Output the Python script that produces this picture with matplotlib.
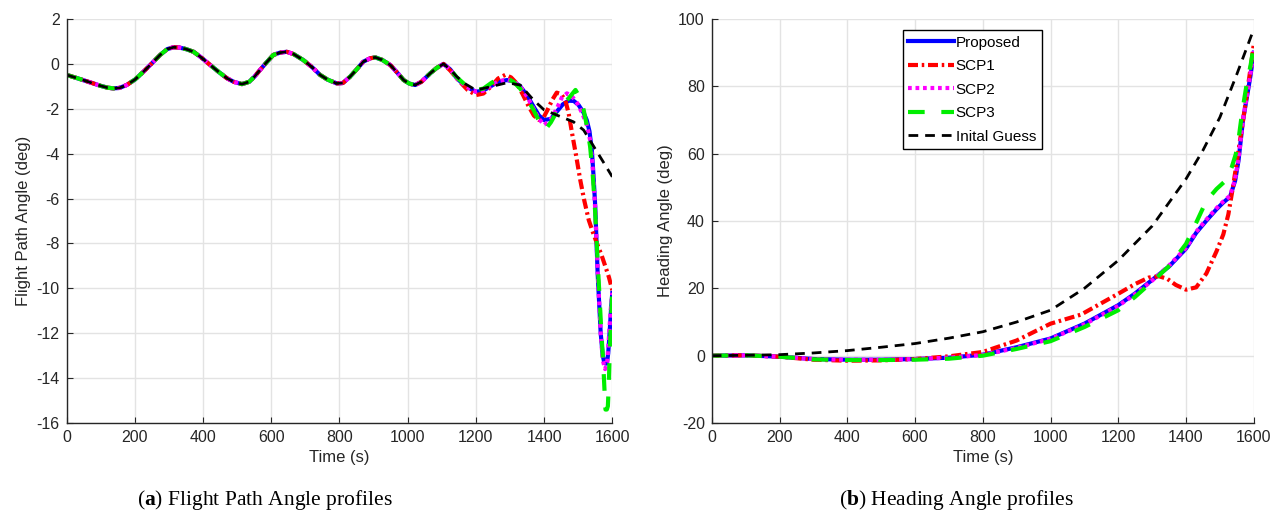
import numpy as np
import matplotlib.pyplot as plt

# =========================
# DATA
# =========================

# flight path angle, common oscillation part (0 - 1105 s)
t_fpa_early = [0, 40, 78, 100, 120, 137, 155, 176, 200, 225,
               250, 274, 295, 313, 330, 350, 372, 395, 421, 445,
               470, 490, 514, 535, 550, 567, 585, 606, 625, 645,
               665, 694, 720, 743, 765, 792, 810, 831, 850, 870,
               890, 905, 925, 949, 970, 988, 1005, 1022, 1040, 1066,
               1085, 1105]
fpa_early = [-0.49, -0.68, -0.87, -0.98, -1.06, -1.09, -1.07, -0.94, -0.70, -0.35,
             0.03, 0.40, 0.66, 0.74, 0.73, 0.66, 0.54, 0.28, -0.05, -0.35,
             -0.64, -0.80, -0.90, -0.80, -0.58, -0.27, 0.05, 0.40, 0.50, 0.54,
             0.44, 0.17, -0.15, -0.49, -0.70, -0.87, -0.85, -0.57, -0.25, 0.10,
             0.25, 0.29, 0.18, -0.05, -0.40, -0.72, -0.88, -0.94, -0.80, -0.42,
             -0.18, 0.0]

# tails
t_fpa_prop = [1125, 1144, 1170, 1200, 1220, 1242, 1265, 1291, 1310, 1330,
              1350, 1369, 1385, 1400, 1420, 1437, 1455, 1472, 1487, 1501,
              1515, 1525, 1533, 1540, 1545, 1550, 1557, 1566, 1572, 1576,
              1580, 1584, 1588, 1592, 1596, 1600]
fpa_prop = [-0.25, -0.64, -1.0, -1.24, -1.20, -1.01, -0.80, -0.72, -0.78, -1.0,
            -1.4, -1.9, -2.3, -2.5, -2.45, -2.13, -1.8, -1.64, -1.65, -1.83,
            -2.15, -2.5, -3.0, -3.84, -5.0, -6.36, -9.33, -12.0, -13.0, -13.27,
            -13.35, -13.35, -12.9, -12.0, -11.0, -10.2]

t_fpa_scp1 = [1125, 1150, 1175, 1200, 1222, 1245, 1265, 1286, 1303, 1320,
              1337, 1355, 1370, 1385, 1398, 1410, 1424, 1437, 1450, 1462,
              1472, 1482, 1494, 1506, 1518, 1531, 1543, 1555, 1568, 1580,
              1590, 1600]
fpa_scp1 = [-0.3, -0.75, -1.15, -1.39, -1.32, -1.0, -0.65, -0.49, -0.6, -0.87,
            -1.35, -1.9, -2.3, -2.5, -2.4, -2.05, -1.6, -1.28, -1.35, -1.61,
            -2.2, -3.09, -4.1, -5.17, -6.1, -6.96, -7.5, -8.0, -8.5, -9.04,
            -9.5, -10.08]

t_fpa_scp2 = [1125, 1144, 1170, 1200, 1220, 1242, 1265, 1291, 1310, 1330,
              1350, 1369, 1385, 1400, 1418, 1437, 1452, 1467, 1482, 1497,
              1512, 1525, 1535, 1542, 1550, 1558, 1566, 1572, 1579, 1585,
              1590, 1595, 1600]
fpa_scp2 = [-0.25, -0.64, -1.0, -1.24, -1.2, -1.0, -0.78, -0.70, -0.78, -1.0,
            -1.45, -2.0, -2.45, -2.72, -2.5, -2.0, -1.5, -1.31, -1.45, -1.75,
            -2.2, -2.7, -3.4, -4.5, -6.5, -9.5, -12.0, -13.2, -13.6, -13.3,
            -12.2, -11.0, -10.2]

t_fpa_scp3 = [1125, 1144, 1170, 1200, 1222, 1245, 1268, 1291, 1310, 1330,
              1350, 1369, 1387, 1403, 1420, 1437, 1455, 1472, 1492, 1505,
              1516, 1526, 1535, 1543, 1550, 1557, 1563, 1568, 1573, 1577,
              1580, 1584, 1587, 1590, 1592, 1596, 1600]
fpa_scp3 = [-0.25, -0.6, -0.95, -1.17, -1.1, -0.85, -0.65, -0.64, -0.8, -1.1,
            -1.55, -2.05, -2.6, -2.94, -2.6, -2.13, -1.8, -1.53, -1.16, -1.5,
            -2.05, -2.8, -3.69, -5.0, -6.66, -8.8, -10.5, -12.0, -13.2, -14.5,
            -15.4, -15.4, -15.25, -14.2, -13.05, -11.5, -10.08]

t_fpa_ig = [1125, 1144, 1170, 1200, 1242, 1291, 1330, 1369, 1400, 1437,
            1486, 1516, 1546, 1576, 1600]
fpa_ig = [-0.25, -0.57, -0.9, -1.17, -1.02, -0.84, -0.94, -1.61, -2.05, -2.28,
          -2.58, -2.95, -3.69, -4.43, -5.03]

# heading angle
t_head = [0, 100, 200, 300, 400, 500, 600, 700, 800, 900,
          1000, 1100, 1200, 1250, 1300, 1350, 1400, 1430, 1460, 1490,
          1510, 1530, 1545, 1555, 1568, 1580, 1590, 1600]
head_prop = [0, 0.1, -0.3, -1.0, -1.2, -1.2, -1.0, -0.6, 0.3, 2.5,
             5.1, 9.5, 15.0, 18.5, 22.5, 26.5, 31.8, 36.5, 40.1, 43.5,
             45.5, 47.2, 52, 58, 69.8, 77, 83, 90]
head_scp2 = [0, 0.1, -0.3, -1.0, -1.2, -1.2, -1.0, -0.6, 0.2, 2.3,
             5.0, 9.3, 14.8, 18.3, 22.3, 26.8, 32.0, 36.8, 40.4, 43.8,
             45.8, 47.5, 52.5, 58.5, 70, 77.5, 83.5, 90.5]

t_head_scp1 = [0, 100, 200, 300, 400, 500, 600, 700, 800, 900,
               1000, 1090, 1200, 1250, 1290, 1320, 1345, 1370, 1400, 1430,
               1460, 1490, 1510, 1525, 1540, 1555, 1568, 1580, 1590, 1600]
head_scp1 = [0, 0.1, -0.3, -1.2, -1.5, -1.4, -1.0, -0.2, 1.1, 4.5,
             9.5, 12.2, 18.4, 21.3, 23.2, 23.6, 22.8, 21.0, 19.6, 20.3,
             24.4, 31.0, 36.0, 42, 51, 61, 69.7, 78, 85, 92.5]

t_head_scp3 = [0, 100, 200, 300, 400, 500, 600, 700, 800, 900,
               1000, 1100, 1200, 1250, 1300, 1352, 1400, 1430, 1460, 1490,
               1517, 1535, 1547, 1556, 1566, 1578, 1591, 1600]
head_scp3 = [0, 0.1, -0.3, -1.1, -1.3, -1.3, -1.2, -0.9, 0.0, 2.0,
             4.3, 8.5, 13.5, 17.5, 22.0, 26.8, 33.2, 39.5, 46.0, 49.5,
             52.0, 56, 59.9, 65, 72.6, 80, 86.5, 92]

t_head_ig = [0, 100, 200, 300, 400, 500, 600, 700, 800, 900,
             1000, 1100, 1200, 1300, 1400, 1450, 1500, 1550, 1600]
head_ig = [0, 0.1, 0.3, 0.8, 1.5, 2.5, 3.6, 5.2, 7.1, 10.0,
           13.5, 20.0, 28.3, 38.5, 52.5, 61, 70.8, 83.6, 97.0]

labels = ["Proposed", "SCP1", "SCP2", "SCP3", "Inital Guess"]

# =========================
# PLOT
# =========================

plt.rcParams['font.family'] = ['Liberation Sans', 'DejaVu Sans']
plt.rcParams['axes.unicode_minus'] = False
plt.rcParams['mathtext.fontset'] = 'custom'
plt.rcParams['mathtext.rm'] = 'Liberation Serif'
plt.rcParams['mathtext.bf'] = 'Liberation Serif:bold'

styles = [
    dict(color="#0000ff", lw=3, ls="-"),
    dict(color="#ff0000", lw=3, ls=(0, (2.4, 0.9, 0.6, 0.9))),
    dict(color="#ff00ff", lw=3, ls=(0, (0.9, 0.9))),
    dict(color="#00ee00", lw=3, ls=(0, (4, 4))),
    dict(color="black", lw=2, ls=(0, (3.5, 2.5))),
]

fig = plt.figure(figsize=(12.85, 5.21), dpi=100)
ax1 = fig.add_axes([0.0519, 0.1881, 0.4246, 0.7754])
ax2 = fig.add_axes([0.5539, 0.1881, 0.4218, 0.7754])

fpa_t = [t_fpa_early + t_fpa_prop, t_fpa_early + t_fpa_scp1, t_fpa_early + t_fpa_scp2,
         t_fpa_early + t_fpa_scp3, t_fpa_early + t_fpa_ig]
fpa_v = [fpa_early + fpa_prop, fpa_early + fpa_scp1, fpa_early + fpa_scp2,
         fpa_early + fpa_scp3, fpa_early + fpa_ig]
for tt, vv, st, lab in zip(fpa_t, fpa_v, styles, labels):
    ax1.plot(tt, vv, label=lab, **st)

head_t = [t_head, t_head_scp1, t_head, t_head_scp3, t_head_ig]
head_v = [head_prop, head_scp1, head_scp2, head_scp3, head_ig]
for tt, vv, st, lab in zip(head_t, head_v, styles, labels):
    ax2.plot(tt, vv, label=lab, **st)

ax1.set_ylim(-16, 2)
ax1.set_yticks(np.arange(-16, 3, 2))
ax2.set_ylim(-20, 100)
ax2.set_yticks(np.arange(-20, 101, 20))

for ax in (ax1, ax2):
    ax.set_xlim(0, 1600)
    ax.set_xticks(np.arange(0, 1601, 200))
    ax.grid(True, color="#e3e3e3", lw=1)
    ax.set_axisbelow(True)
    ax.spines['top'].set_visible(False)
    ax.spines['right'].set_visible(False)
    for s in ('left', 'bottom'):
        ax.spines[s].set_color("#262626")
        ax.spines[s].set_linewidth(1)
    ax.tick_params(direction='in', length=4, color="#262626",
                   labelcolor="#262626", labelsize=11.5, pad=5)
    ax.set_xlabel("Time (s)", fontsize=12, color="#262626")

ax1.set_ylabel("Flight Path Angle (deg)", fontsize=12, color="#262626")
ax2.set_ylabel("Heading Angle (deg)", fontsize=12, color="#262626")

leg = ax2.legend(loc="upper left", bbox_to_anchor=(0.353, 0.972), fontsize=11,
                 frameon=True, fancybox=False, edgecolor="black", framealpha=1,
                 handlelength=3.0, handletextpad=0.1, labelspacing=0.62,
                 borderpad=0.35, borderaxespad=0)
leg.get_frame().set_linewidth(1)

fig.text(0.206, 0.04, r"($\mathbf{a}$) Flight Path Angle profiles",
         ha="center", va="center", fontsize=15.5, family="Liberation Serif")
fig.text(0.744, 0.04, r"($\mathbf{b}$) Heading Angle profiles",
         ha="center", va="center", fontsize=15.5, family="Liberation Serif")

plt.savefig("out.png", dpi=100)
